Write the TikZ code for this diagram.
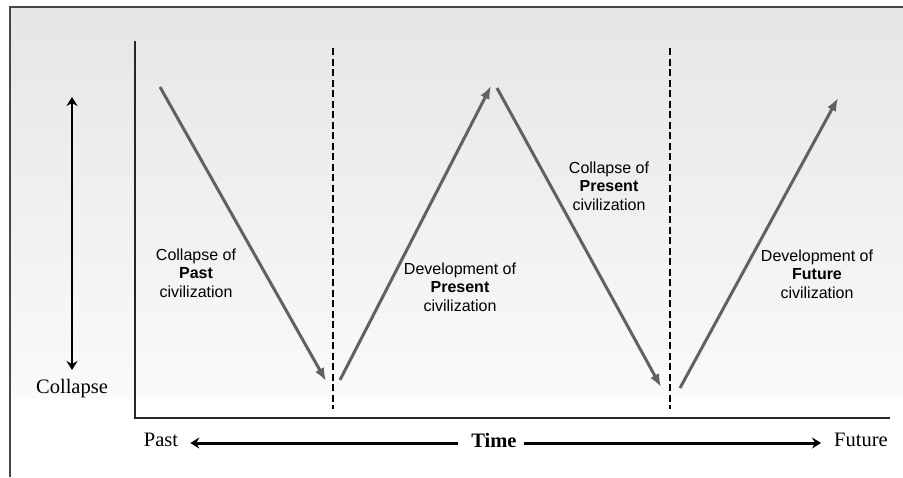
\documentclass[tikz,border=0pt]{standalone}
\usepackage{fontspec}
\setmainfont{Liberation Serif}
\setsansfont{Liberation Sans}
\usetikzlibrary{arrows.meta}
\tikzset{>=latex}
\colorlet{trend}{black!62}
\colorlet{rim}{black!72}
\tikzset{
  bigtip/.tip = {Stealth[length=9pt,width=11pt,inset=3pt]},
  trendarrow/.style = {-{Latex[length=13pt,width=10pt]},trend,line width=3pt},
  erasplit/.style = {black,line width=2.4pt,dash pattern=on 7pt off 3.5pt},
  note/.style = {font=\sffamily\fontsize{16}{18.5}\selectfont,align=center,inner sep=0pt},
  axisword/.style = {font=\fontsize{20.5}{24}\selectfont,inner sep=0pt}
}
\newcommand{\civ}[2]{#1\\\textbf{#2}\\civilization}

\begin{document}
\begin{tikzpicture}[x=1pt,y=-1pt]
  \useasboundingbox (0,0) rectangle (903,477);
  \shade[top color=black!10,bottom color=black!2] (10,7) rectangle (903,398);
  \draw[rim,line width=2pt] (10,477) -- (10,7) -- (903,7);
  % axes
  \coordinate (ytop) at (135,41);
  \coordinate (origin) at (135,418);
  \coordinate (xend) at (890,418);
  \draw[black!85,line width=1.2pt] (ytop) -- (origin) -- (xend);
  % era boundaries
  \coordinate (split1top) at (333,48);
  \coordinate (split1bot) at (333,409);
  \coordinate (split2top) at (670,48);
  \coordinate (split2bot) at (670,409);
  \draw[erasplit] (split1top) -- (split1bot);
  \draw[erasplit] (split2top) -- (split2bot);
  % rise and fall
  \coordinate (peak0) at (160,87);
  \coordinate (low1a) at (326,381);
  \coordinate (low1b) at (340,380);
  \coordinate (peak1a) at (491,86);
  \coordinate (peak1b) at (497,88);
  \coordinate (low2a) at (661,387);
  \coordinate (low2b) at (680,388);
  \coordinate (peak2) at (838,98);
  \draw[trendarrow] (peak0) -- (low1a);
  \draw[trendarrow] (low1b) -- (peak1a);
  \draw[trendarrow] (peak1b) -- (low2a);
  \draw[trendarrow] (low2b) -- (peak2);
  \node[note] (fallpast) at (196,273) {\civ{Collapse of}{Past}};
  \node[note] (risepresent) at (460,287) {\civ{Development of}{Present}};
  \node[note] (fallpresent) at (609,186) {\civ{Collapse of}{Present}};
  \node[note] (risefuture) at (817,274) {\civ{Development of}{Future}};
  % collapse scale
  \node[axisword] (collapse) at (72,389) {Collapse};
  \coordinate (scaletop) at (72,97);
  \coordinate (scalebot) at (72,370);
  \draw[bigtip-bigtip,line width=2.2pt] (scaletop) -- (scalebot);
  % time line
  \node[axisword] (past) at (161,440) {Past};
  \node[axisword,font=\fontsize{20.5}{24}\selectfont\bfseries] (time) at (494,440) {Time};
  \node[axisword] (future) at (861,440) {Future};
  \draw[-bigtip,line width=3pt,shorten >=12pt,shorten <=13pt]
    ([yshift=-3pt]time.west) -- ([yshift=-3pt]past.east);
  \draw[-bigtip,line width=3pt,shorten >=13pt,shorten <=7pt]
    ([yshift=-3pt]time.east) -- ([yshift=-3pt]future.west);
\end{tikzpicture}
\end{document}
